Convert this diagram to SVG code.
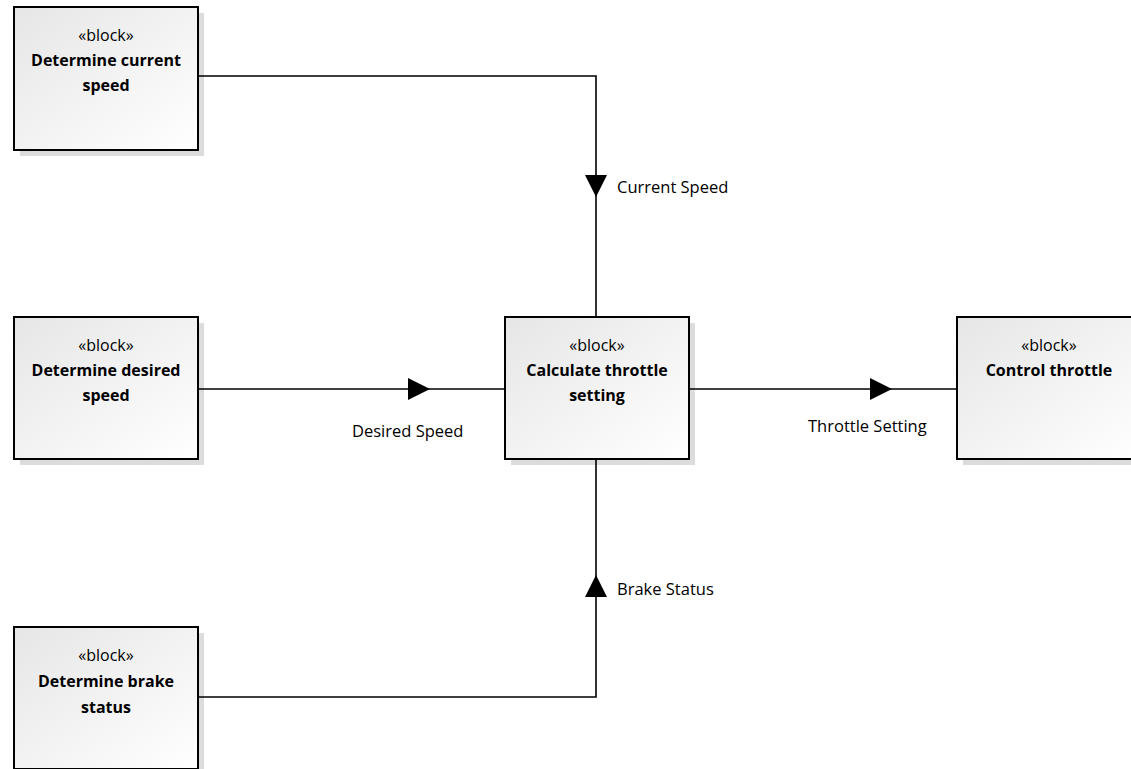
<svg xmlns="http://www.w3.org/2000/svg" width="1131" height="769" viewBox="0 0 1131 769">
<style>
.shadow{fill:#dcdcdc}
.box{fill:url(#g);stroke:#000;stroke-width:2}
.st{font-family:"Open Sans","Liberation Sans",sans-serif;font-size:16px;fill:#000;text-anchor:middle}
.nm{font-family:"Open Sans","Liberation Sans",sans-serif;font-size:16px;font-weight:bold;fill:#000;text-anchor:middle}
.lbl{font-family:"Open Sans","Liberation Sans",sans-serif;font-size:16.5px;fill:#000}
.ln{fill:none;stroke:#000;stroke-width:1.6}
.ah{fill:#000}
</style>
<defs>
<linearGradient id="g" x1="0" y1="0" x2="1" y2="1">
<stop offset="0" stop-color="#e6e6e6"/>
<stop offset="1" stop-color="#ffffff"/>
</linearGradient>
<path id="tri" d="M0,0 L-22,-11 L-22,11 Z"/>
</defs>
<g id="determine-current-speed">
<rect class="shadow" x="20" y="13" width="184" height="143"/>
<rect class="box" x="14" y="7" width="184" height="143"/>
<text class="st" x="106" y="41">«block»</text>
<text class="nm" x="106" y="66">Determine current</text>
<text class="nm" x="106" y="91">speed</text>
</g>
<g id="determine-desired-speed">
<rect class="shadow" x="20" y="323" width="184" height="142"/>
<rect class="box" x="14" y="317" width="184" height="142"/>
<text class="st" x="106" y="351">«block»</text>
<text class="nm" x="106" y="376">Determine desired</text>
<text class="nm" x="106" y="401">speed</text>
</g>
<g id="calculate-throttle-setting">
<rect class="shadow" x="511" y="323" width="184" height="142"/>
<rect class="box" x="505" y="317" width="184" height="142"/>
<text class="st" x="597" y="351">«block»</text>
<text class="nm" x="597" y="376">Calculate throttle</text>
<text class="nm" x="597" y="401">setting</text>
</g>
<g id="control-throttle">
<rect class="shadow" x="963" y="323" width="184" height="142"/>
<rect class="box" x="957" y="317" width="184" height="142"/>
<text class="st" x="1049" y="351">«block»</text>
<text class="nm" x="1049" y="376">Control throttle</text>
</g>
<g id="determine-brake-status">
<rect class="shadow" x="20" y="633" width="184" height="142"/>
<rect class="box" x="14" y="627" width="184" height="142"/>
<text class="st" x="106" y="661">«block»</text>
<text class="nm" x="106" y="687">Determine brake</text>
<text class="nm" x="106" y="713">status</text>
</g>
<g id="connectors">
<path class="ln" d="M198,76 H596 V316"/>
<use href="#tri" class="ah" transform="translate(596,197) rotate(90)"/>
<path class="ln" d="M198,389 H504"/>
<use href="#tri" class="ah" transform="translate(430,389)"/>
<path class="ln" d="M198,697 H596 V460"/>
<use href="#tri" class="ah" transform="translate(596,575) rotate(-90)"/>
<path class="ln" d="M690,389 H956"/>
<use href="#tri" class="ah" transform="translate(892,389)"/>
<text class="lbl" x="617" y="193">Current Speed</text>
<text class="lbl" x="352" y="437">Desired Speed</text>
<text class="lbl" x="617" y="595">Brake Status</text>
<text class="lbl" x="808" y="432">Throttle Setting</text>
</g>
</svg>
